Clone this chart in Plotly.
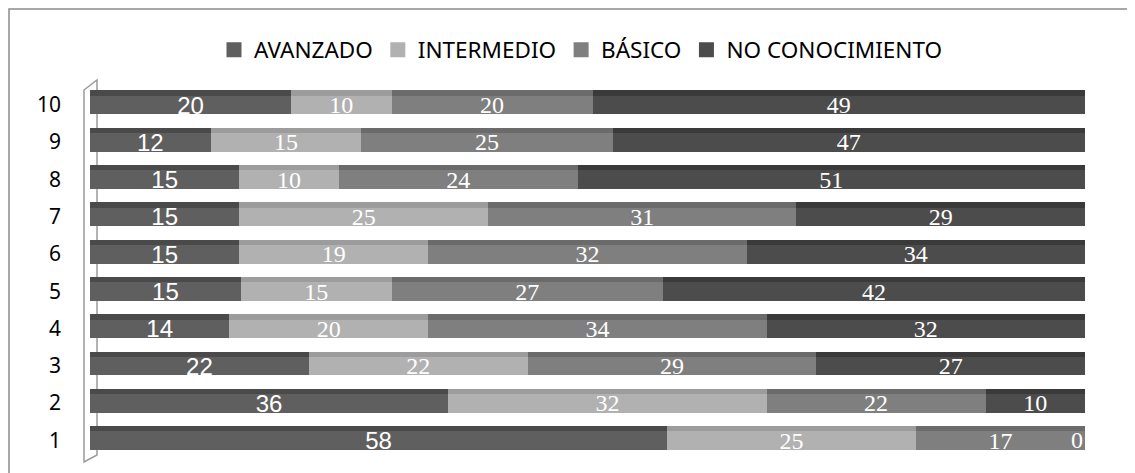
import plotly.graph_objects as go

categories = ["1", "2", "3", "4", "5", "6", "7", "8", "9", "10"]
avanzado = [58, 36, 22, 14, 15, 15, 15, 15, 12, 20]
intermedio = [25, 32, 22, 20, 15, 19, 25, 10, 15, 10]
basico = [17, 22, 29, 34, 27, 32, 31, 24, 25, 20]
no_conoc = [0, 10, 27, 32, 42, 34, 29, 51, 47, 49]

series = [
    ("AVANZADO", avanzado, "#5f5f5f", "#4a4a4a", "Liberation Sans"),
    ("INTERMEDIO", intermedio, "#b1b1b1", "#9c9c9c", "Liberation Serif"),
    ("BÁSICO", basico, "#7f7f7f", "#6b6b6b", "Liberation Serif"),
    ("NO CONOCIMIENTO", no_conoc, "#4c4c4c", "#3a3a3a", "Liberation Serif"),
]

fig = go.Figure()
# front faces with labels
for name, vals, color, top, fam in series:
    fig.add_trace(go.Bar(
        y=categories, x=vals, name=name, orientation="h", showlegend=False,
        offset=-0.26, width=0.50,
        marker=dict(color=color, line=dict(width=0)),
        text=[str(v) if v > 0 else "" for v in vals],
        textposition="inside", insidetextanchor="middle",
        textfont=dict(family=fam, size=24, color="white"),
        constraintext="none", textangle=0, hoverinfo="skip",
    ))
# top faces (3D look) on an overlaid axis so they stack separately
for name, vals, color, top, fam in series:
    fig.add_trace(go.Bar(
        y=categories, x=vals, name=name, orientation="h", showlegend=False,
        offset=0.24, width=0.14, yaxis="y2",
        marker=dict(color=top, line=dict(width=0)), hoverinfo="skip",
    ))
# legend entries with larger square symbols
for name, vals, color, top, fam in series:
    fig.add_trace(go.Scatter(x=[None], y=[None], mode="markers", name=name,
                             marker=dict(symbol="square", size=15, color=color)))

# zero label for the last series (drawn at bar end)
for i, v in enumerate(no_conoc):
    if v == 0:
        fig.add_annotation(x=100, y=i, text="0", showarrow=False, xanchor="right",
                           font=dict(family="Liberation Serif", size=24, color="white"))

OFF = 8  # page body margin
W, H = 1135 - OFF, 473 - OFF
L, R, T, B = 90 - OFF, 1135 - 1085, 86 - OFF, 473 - 459
pw, ph = W - L - R, H - T - B
def px(x): return (x - OFF - L) / pw
def py(y): return (H - B - (y - OFF)) / ph

fig.update_layout(
    width=W, height=H,
    margin=dict(l=L, r=R, t=T, b=B, autoexpand=False),
    barmode="stack", barnorm="percent",
    plot_bgcolor="white", paper_bgcolor="white",
    showlegend=True,
    legend=dict(orientation="h", x=px(581), xanchor="center",
                y=py(50), yanchor="middle", traceorder="normal",
                font=dict(family="Noto Sans", size=22.5, color="#000"),
                itemwidth=30, tracegroupgap=0),
    xaxis=dict(range=[0, 100], visible=False, fixedrange=True),
    yaxis=dict(type="category", categoryorder="array", categoryarray=categories,
               range=[-0.5, 9.5],
               tickfont=dict(family="Noto Sans", size=21, color="#000"),
               ticks="", showline=False, showgrid=False, ticklabelstandoff=28),
    yaxis2=dict(type="category", categoryorder="array", categoryarray=categories,
                overlaying="y", range=[-0.5, 9.5], visible=False),
    shapes=[
        dict(type="rect", xref="paper", yref="paper", x0=px(9), x1=px(1150), y0=py(9), y1=py(490),
             line=dict(color="#8c8c8c", width=1.5), fillcolor="rgba(0,0,0,0)", layer="below"),
        dict(type="path", xref="paper", yref="paper",
             path=f"M {px(84)} {py(462)} L {px(84)} {py(90)} L {px(97)} {py(80)} L {px(97)} {py(455)} Z",
             line=dict(color="#9a9a9a", width=1.5), fillcolor="rgba(255,255,255,0)", layer="below"),
    ],
)

fig.write_html("out.html")
